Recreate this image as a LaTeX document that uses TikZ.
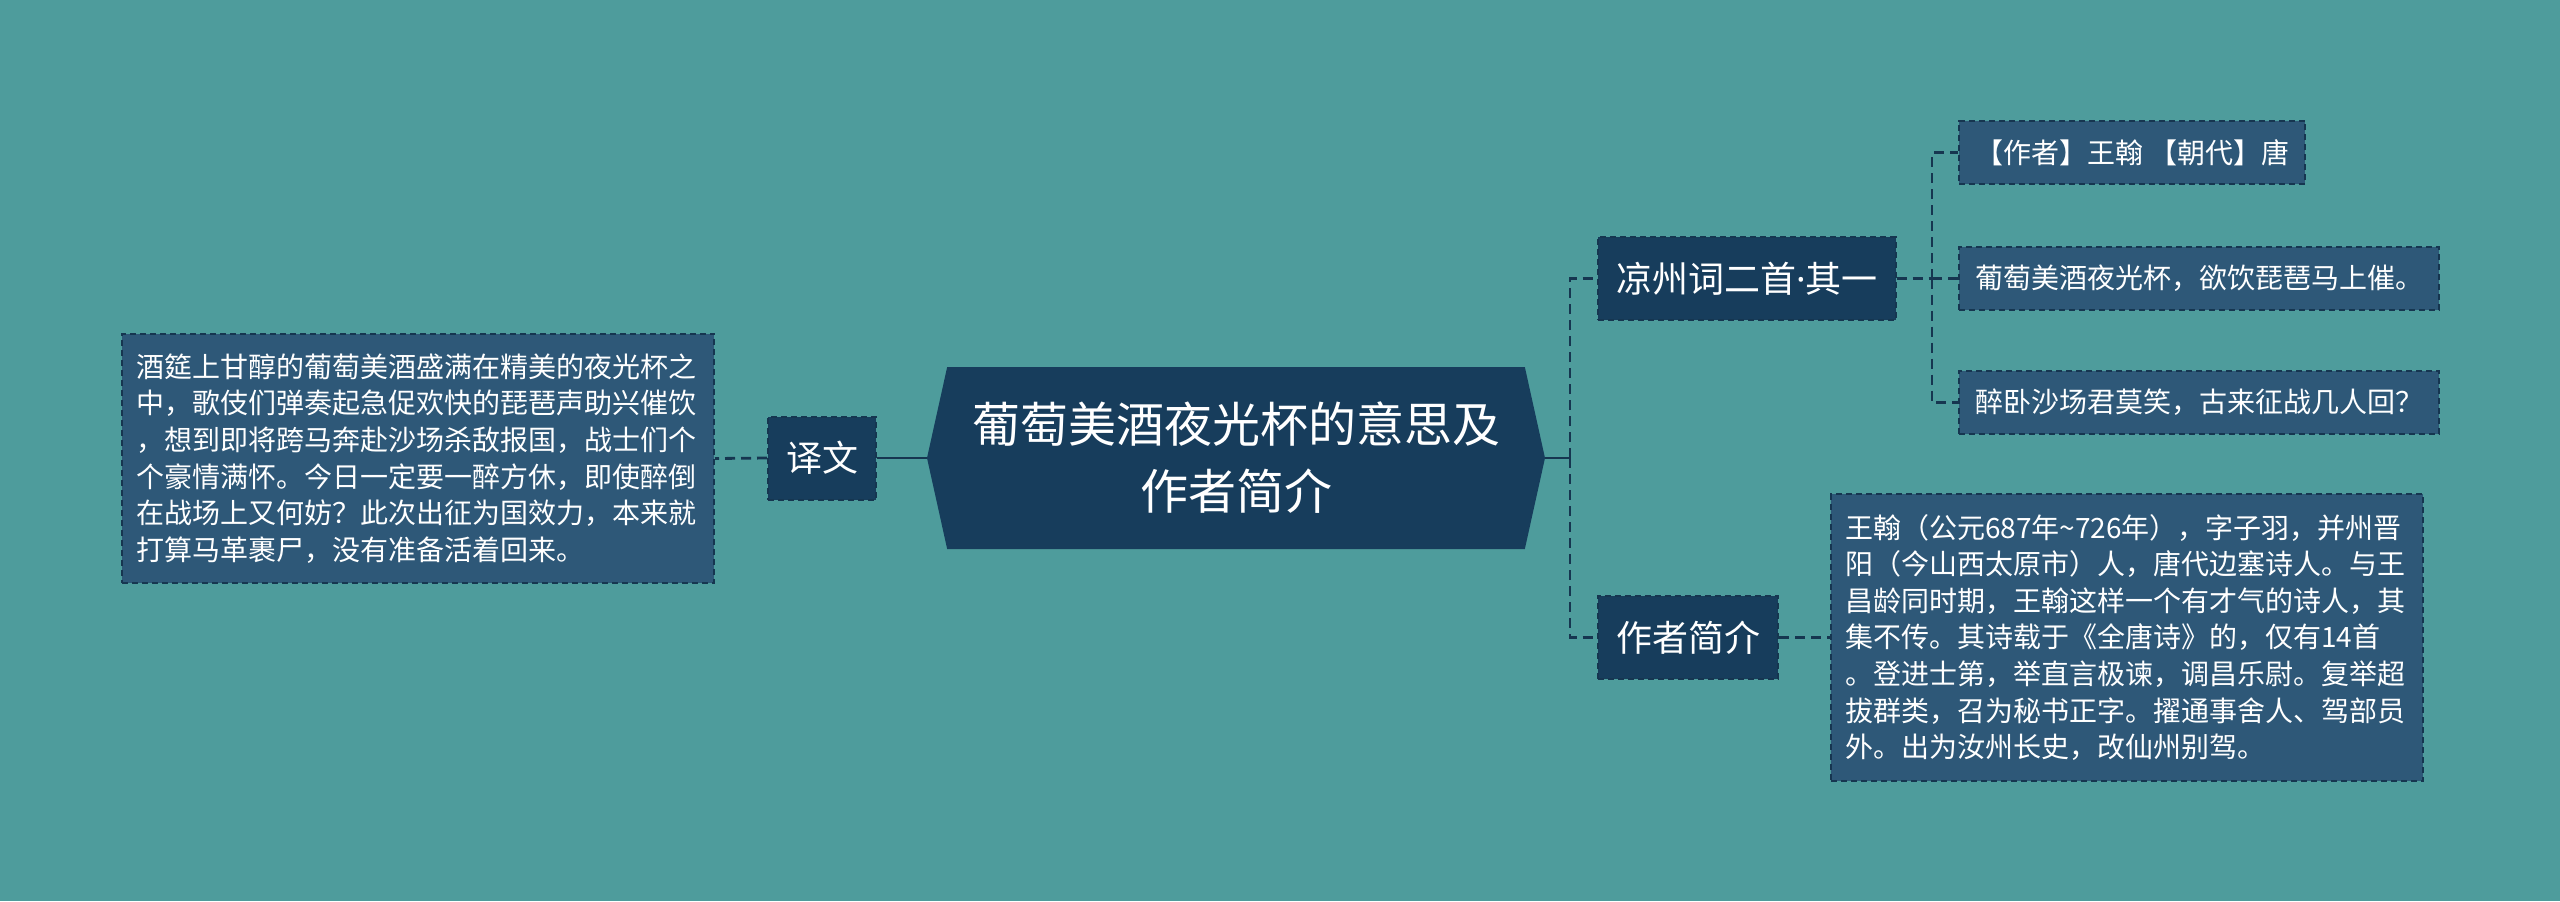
\documentclass[tikz,border=0pt]{standalone}
\usepackage{fontspec}
\setmainfont{Noto Sans CJK SC}
\newfontfamily\latinfont{Noto Sans}
\usetikzlibrary{shapes.symbols}
\definecolor{bgteal}{HTML}{4E9C9C}
\definecolor{navy}{HTML}{173D5C}
\definecolor{leafblue}{HTML}{2E5878}
\definecolor{linkcol}{HTML}{163650}

\begin{document}
\begin{tikzpicture}[x=0.5pt, y=-0.5pt,
    topic/.style={signal, signal to=west and east, signal pointer angle=155,
      fill=navy, text=white, align=center, inner sep=0pt,
      minimum width=309pt, minimum height=91pt, font=\fontsize{24}{33.5}\selectfont},
    branch/.style={fill=navy, draw=linkcol, line width=1pt, dash pattern=on 3pt off 2pt,
      text=white, inner xsep=9pt, minimum height=41.5pt, font=\fontsize{18}{22}\selectfont},
    leaf/.style={fill=leafblue, draw=linkcol, line width=1pt, dash pattern=on 3pt off 2pt,
      text=white, inner xsep=8pt, minimum height=31.5pt, font=\fontsize{14}{18.3}\selectfont},
    note/.style={leaf, text width=282pt, align=left, inner xsep=7pt, inner ysep=10pt},
    link/.style={draw=linkcol, line width=1.4pt, dash pattern=on 5pt off 3pt}]
  \fill[bgteal] (0,0) rectangle (2560,901);

  \node[topic] (topic) at (1236,458) {葡萄美酒夜光杯的意思及\\作者简介};
  \node[branch] (yiwen) at (822,458) {译文};
  \node[note, anchor=east] (yiwen-text) at (715,458.5) {酒筵上甘醇的葡萄美酒盛满在精美的夜光杯之\\中，歌伎们弹奏起急促欢快的琵琶声助兴催饮\\，想到即将跨马奔赴沙场杀敌报国，战士们个\\个豪情满怀。今日一定要一醉方休，即使醉倒\\在战场上又何妨？此次出征为国效力，本来就\\打算马革裹尸，没有准备活着回来。};

  \node[branch, anchor=west] (liangzhou) at (1597,278.5) {凉州词二首{\latinfont ·}其一};
  \node[branch, anchor=west] (author) at (1597,637.5) {作者简介};

  \node[leaf, anchor=west] (poem-a) at (1958,152.5) {【作者】王翰 【朝代】唐};
  \node[leaf, anchor=west] (poem-b) at (1958,278.5) {葡萄美酒夜光杯，欲饮琵琶马上催。};
  \node[leaf, anchor=west] (poem-c) at (1958,402.5) {醉卧沙场君莫笑，古来征战几人回？};
  \node[note, anchor=west] (bio) at (1830,637.5) {王翰（公元687年\textasciitilde726年），字子羽，并州晋\\阳（今山西太原市）人，唐代边塞诗人。与王\\昌龄同时期，王翰这样一个有才气的诗人，其\\集不传。其诗载于《全唐诗》的，仅有14首\\。登进士第，举直言极谏，调昌乐尉。复举超\\拔群类，召为秘书正字。擢通事舍人、驾部员\\外。出为汝州长史，改仙州别驾。};

  \coordinate (rj) at (1570,458);
  \coordinate (lj) at (1932,278.5);
  \draw[linkcol, line width=1.4pt] (topic.west) -- (yiwen.east);
  \draw[link] (yiwen.west) -- (yiwen-text.east);
  \draw[linkcol, line width=1.4pt] (topic.east) -- (rj);
  \draw[link] (rj) |- (liangzhou.west);
  \draw[link] (rj) |- (author.west);
  \draw[link] (liangzhou.east) -- (lj);
  \foreach \leaf in {poem-a, poem-b, poem-c}
    \draw[link] (lj) |- (\leaf.west);
  \draw[link] (author.east) -- (bio.west);
\end{tikzpicture}
\end{document}
